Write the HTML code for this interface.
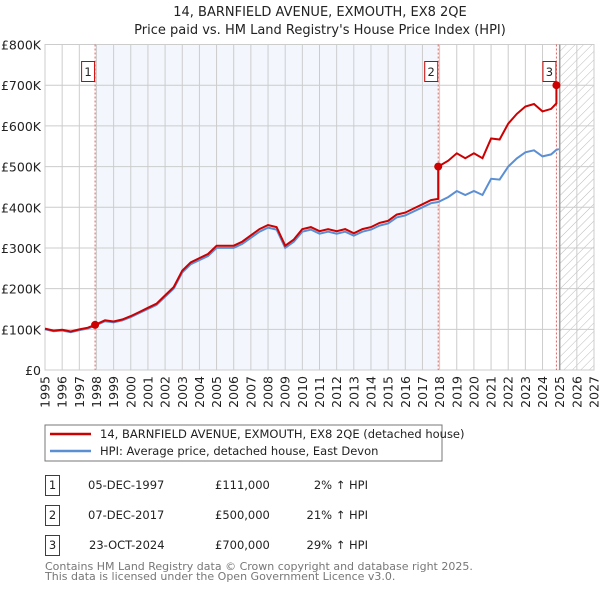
<!DOCTYPE html>
<html><head><meta charset="utf-8"><style>
body{margin:0;background:#fff;font-family:"Liberation Sans","DejaVu Sans",sans-serif;}
svg text{font-family:"DejaVu Sans","Liberation Sans",sans-serif;}
</style></head><body>
<svg id="c" width="600" height="590" xmlns="http://www.w3.org/2000/svg">
<defs><pattern id="hatch" width="6" height="6" patternUnits="userSpaceOnUse" patternTransform="rotate(45)"><line x1="0" y1="0" x2="0" y2="6" stroke="#bbb" stroke-width="1"/></pattern></defs>
<text x="320" y="16" text-anchor="middle" font-size="13" fill="#222">14, BARNFIELD AVENUE, EXMOUTH, EX8 2QE</text>
<text x="320" y="34" text-anchor="middle" font-size="13" fill="#222">Price paid vs. HM Land Registry's House Price Index (HPI)</text>
<g id="plot"></g>
<g>
<rect x="45" y="425" width="397" height="36" fill="#fff" stroke="#777"/>
<line x1="50" y1="434" x2="91" y2="434" stroke="#cc0000" stroke-width="2.5"/>
<text x="100" y="438" font-size="11.5" fill="#222">14, BARNFIELD AVENUE, EXMOUTH, EX8 2QE (detached house)</text>
<line x1="50" y1="451" x2="91" y2="451" stroke="#5b8fd4" stroke-width="2.5"/>
<text x="100" y="455" font-size="11.5" fill="#222">HPI: Average price, detached house, East Devon</text>
</g>
<g font-size="11.5" fill="#222">
<rect x="45.5" y="475.5" width="14" height="20" fill="none" stroke="#cc0000"/><text x="52.5" y="489" text-anchor="middle">1</text>
<text x="88" y="489">05-DEC-1997</text><text x="215" y="489">£111,000</text><text x="368" y="489" text-anchor="end">2% ↑ HPI</text>
<rect x="45.5" y="505.5" width="14" height="20" fill="none" stroke="#cc0000"/><text x="52.5" y="519" text-anchor="middle">2</text>
<text x="88" y="519">07-DEC-2017</text><text x="215" y="519">£500,000</text><text x="368" y="519" text-anchor="end">21% ↑ HPI</text>
<rect x="45.5" y="535.5" width="14" height="20" fill="none" stroke="#cc0000"/><text x="52.5" y="549" text-anchor="middle">3</text>
<text x="89" y="549">23-OCT-2024</text><text x="215" y="549">£700,000</text><text x="368" y="549" text-anchor="end">29% ↑ HPI</text>
</g>
<text x="45" y="570" font-size="11" fill="#777">Contains HM Land Registry data © Crown copyright and database right 2025.</text>
<text x="45" y="580" font-size="11" fill="#777">This data is licensed under the Open Government Licence v3.0.</text>
</svg>
<script>
const hpiYears=[1995,1995.5,1996,1996.5,1997,1997.5,1997.92,1998.5,1999,1999.5,2000,2000.5,2001,2001.5,2002,2002.5,2003,2003.5,2004,2004.5,2005,2005.5,2006,2006.5,2007,2007.5,2008,2008.5,2009,2009.5,2010,2010.5,2011,2011.5,2012,2012.5,2013,2013.5,2014,2014.5,2015,2015.5,2016,2016.5,2017,2017.5,2017.92,2018.5,2019,2019.5,2020,2020.5,2021,2021.5,2022,2022.5,2023,2023.5,2024,2024.5,2024.8,2024.95];
const hpiValues=[100,95,97,93,98,102,109,120,117,122,130,140,150,160,180,200,240,260,270,280,300,300,300,310,325,340,350,345,300,315,340,345,335,340,335,340,330,340,345,355,360,375,380,390,400,410,413,425,440,430,440,430,470,468,500,520,535,540,525,530,541,543];
const saleYears=[1997.92,2017.92,2024.81];
const salePrices=[111,500,700];
const saleLabels=['1','2','3'];
const yTicks=[0,100,200,300,400,500,600,700,800];
const yTickLabels=['£0','£100K','£200K','£300K','£400K','£500K','£600K','£700K','£800K'];
const xTicks=[1995,1996,1997,1998,1999,2000,2001,2002,2003,2004,2005,2006,2007,2008,2009,2010,2011,2012,2013,2014,2015,2016,2017,2018,2019,2020,2021,2022,2023,2024,2025,2026,2027];
const X0=45,X1=594,Y0=370,Y1=44.5;
const xs=t=>X0+(t-1995)/32*(X1-X0);
const ys=v=>Y0-v/800*(Y0-Y1);
const NS='http://www.w3.org/2000/svg';
const g=document.getElementById('plot');
function mk(tag,attrs){const e=document.createElementNS(NS,tag);for(const k in attrs)e.setAttribute(k,attrs[k]);g.appendChild(e);return e;}
function hpiAt(t){for(let i=0;i<hpiYears.length-1;i++){if(t<=hpiYears[i+1]){const f=(t-hpiYears[i])/(hpiYears[i+1]-hpiYears[i]);return hpiValues[i]+f*(hpiValues[i+1]-hpiValues[i]);}}return hpiValues[hpiValues.length-1];}
let e;
e=mk('rect',{x:xs(saleYears[0]),y:Y1,width:xs(saleYears[1])-xs(saleYears[0]),height:Y0-Y1,fill:'#eef3fc',opacity:0.7});


e=mk('rect',{x:xs(2025),y:Y1,width:X1-xs(2025),height:Y0-Y1,fill:'url(#hatch)'});


yTicks.forEach((v,i)=>{
 e=mk('line',{x1:X0,x2:X1,y1:ys(v),y2:ys(v),stroke:'#ccc'});
 
 
 e=mk('text',{x:X0-4,y:ys(v)+5,'text-anchor':'end','font-size':'12.5',fill:'#222'});e.textContent=yTickLabels[i];
 
 
});
xTicks.forEach(t=>{
 e=mk('line',{x1:xs(t),x2:xs(t),y1:Y1,y2:Y0,stroke:'#ccc'});
 
 
 e=mk('text',{x:0,y:0,'text-anchor':'end','font-size':'12.5',fill:'#222',transform:`translate(${xs(t)+4.5},${Y0+6}) rotate(-90)`});e.textContent=t;
 
 
});
e=mk('rect',{x:X0,y:Y1,width:X1-X0,height:Y0-Y1,fill:'none',stroke:'#ccc'});


e=mk('line',{x1:xs(2025),x2:xs(2025),y1:Y1,y2:Y0,stroke:'#999',"stroke-width":1.5});


saleYears.forEach((s,i)=>{
 e=mk('line',{x1:xs(s),x2:xs(s),y1:Y1,y2:Y0,stroke:'#e06060','stroke-dasharray':'2,2'});
 
 
});
// HPI line
let d=hpiYears.map((t,i)=>(i?'L':'M')+xs(t).toFixed(1)+','+ys(hpiValues[i]).toFixed(1)).join('');
e=mk('path',{d:d,fill:'none',stroke:'#5b8fd4','stroke-width':2});


// price paid line: indexed from HPI with ratio of most recent sale
const ratios=saleYears.map((s,i)=>salePrices[i]/hpiAt(s));
let pts=[];
hpiYears.forEach((t,i)=>{ if(t>saleYears[2])return; let k=0;for(let j=0;j<saleYears.length;j++)if(t>=saleYears[j]-1e-6)k=j; pts.push([t,hpiValues[i]*ratios[k]]); });
saleYears.forEach((s,i)=>{ if(i>0){pts.push([s-0.001,hpiAt(s)*ratios[i-1]]);} pts.push([s,salePrices[i]]); });
pts.sort((a,b)=>a[0]-b[0]);
d=pts.map((p,i)=>(i?'L':'M')+xs(p[0]).toFixed(1)+','+ys(p[1]).toFixed(1)).join('');
e=mk('path',{d:d,fill:'none',stroke:'#cc0000','stroke-width':2});


saleYears.forEach((s,i)=>{
 e=mk('circle',{cx:xs(s),cy:ys(salePrices[i]),r:4,fill:'#cc0000'});
 
 
 e=mk('rect',{x:xs(s)-13.5,y:61.5,width:13,height:20,fill:'#fff',stroke:'#cc0000'});
 
 
 e=mk('text',{x:xs(s)-7,y:76,'text-anchor':'middle','font-size':'11.5',fill:'#222'});e.textContent=saleLabels[i];
 
 
});
</script>
</body></html>
